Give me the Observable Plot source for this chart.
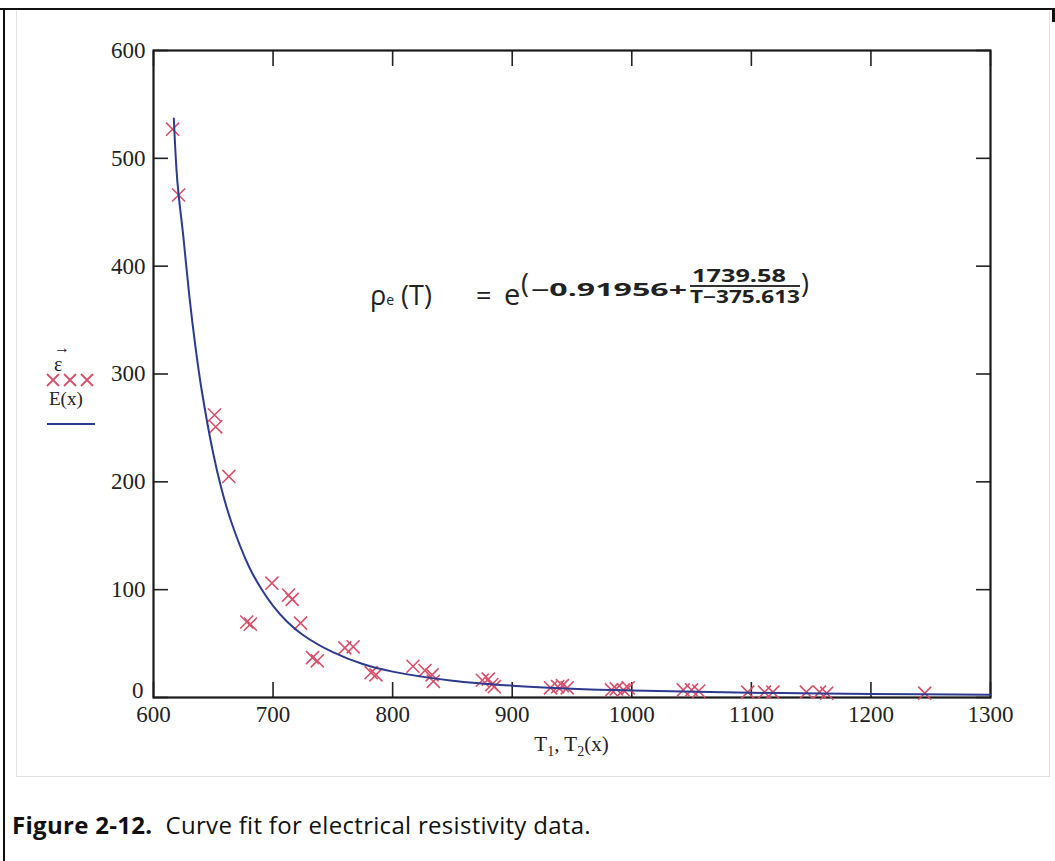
<!DOCTYPE html>
<html><head><meta charset="utf-8">
<script src="https://cdn.jsdelivr.net/npm/d3@7"></script>
<script src="https://cdn.jsdelivr.net/npm/@observablehq/plot@0.6"></script>
<style>
body{margin:0;background:#fff;}
#page{position:relative;width:1055px;height:861px;overflow:hidden;background:#fff;}
.abs{position:absolute;white-space:nowrap;line-height:1;}
.serif{font-family:"Liberation Serif","DejaVu Serif",serif;color:#222;}
.sans{font-family:"Open Sans","Noto Sans",sans-serif;color:#222;}
.fit{transform-origin:0 50%;}
</style></head><body>
<div id="page">
  <div class="abs" style="left:0;top:8px;width:1055px;height:2px;background:#111"></div>
  <div class="abs" style="left:3px;top:8px;width:2px;height:853px;background:#111"></div>
  <div class="abs" style="left:1052px;top:8px;width:3px;height:14px;background:#111"></div>
  <div class="abs" style="left:16px;top:11px;width:1034px;height:766px;border:1px solid #e0e0e0;border-top:none;box-sizing:border-box"></div>
  <div id="chart" class="abs" style="left:0;top:0"></div>

  <!-- legend (y-axis title) -->
  <div class="abs serif" style="left:54px;top:338px;font-size:20px;line-height:17px;white-space:normal;width:20px"><span style="font-size:16px;font-weight:bold">&#x2192;</span><br>ε</div>
  <svg class="abs" style="left:46px;top:373px" width="50" height="14">
    <g stroke="#d6506a" stroke-width="1.8" fill="none">
      <path d="M1,1L13,13M13,1L1,13"/><path d="M18,1L30,13M30,1L18,13"/><path d="M35,1L47,13M47,1L35,13"/>
    </g>
  </svg>
  <div class="abs serif" style="left:49px;top:389px;font-size:19px">E(x)</div>
  <div class="abs" style="left:47px;top:423px;width:48px;height:2px;background:#2c3b8e"></div>

  <!-- x-axis title -->
  <div class="abs serif" style="left:0;width:1143px;text-align:center;top:734px;font-size:21px">T<sub style="font-size:14px">1</sub>, T<sub style="font-size:14px">2</sub>(x)</div>

  <!-- formula -->
  <div class="abs sans" style="left:370px;top:281px;font-size:27px">ρ<span style="font-size:14px">e</span> (T)</div>
  <div class="abs sans" style="left:476px;top:281px;font-size:27px">=</div>
  <div class="abs sans" style="left:504px;top:279px;font-size:29px">e</div>
  <div class="abs sans" style="left:521px;top:269px;font-size:27px">(</div>
  <div class="abs sans fit" data-w="156" style="left:531px;top:281px;font-size:17px;font-weight:bold">−0.91956+</div>
  <div class="abs sans fit" data-w="94" style="left:692px;top:267px;font-size:17px;font-weight:bold">1739.58</div>
  <div class="abs" style="left:690px;top:285px;width:110px;height:1.5px;background:#333"></div>
  <div class="abs sans fit" data-w="110" style="left:690px;top:288px;font-size:17px;font-weight:bold">T−375.613</div>
  <div class="abs sans" style="left:801px;top:269px;font-size:27px">)</div>

  <!-- caption -->
  <div id="cap" class="abs" style="left:12px;top:813px;font-family:'Open Sans',sans-serif;font-size:24px;letter-spacing:0.3px;color:#111"><b>Figure 2-12.</b>&nbsp; Curve fit for electrical resistivity data.</div>
</div>
<script>
// measured data: temperature T and resistivity ε
const pointT = [616, 621, 651, 652, 663, 678, 681, 699, 713, 716, 723, 733, 737, 760, 767, 782, 786, 817, 827, 833, 834,
                875, 880, 883, 885, 932, 938, 942, 946, 983, 987, 993, 997, 1043, 1050, 1056, 1097, 1111, 1118, 1146, 1157, 1163, 1245];
const pointRho = [527, 466, 262, 251, 205, 70, 68, 106, 95, 91, 69, 37, 34, 46, 47, 23, 21, 29, 25, 21, 15,
                  16, 17, 12, 10, 9, 10, 11, 9, 7, 8, 7, 9, 7, 7, 6, 5, 5, 5, 5, 5, 4, 4];
// fitted curve E(x)
const curveT = [617, 620, 625, 630, 635, 640, 650, 657, 665, 680, 690, 700, 712, 725, 750, 775, 800, 850, 900, 950, 1000, 1100, 1200, 1300];
const curveRho = [537, 478, 427, 372, 326, 287, 226, 193, 163, 121, 101, 85, 70, 58, 42, 31, 24, 15.6, 11, 8.2, 6.5, 4.4, 3.3, 2.6];
// axis ticks
const xTicks = [600, 700, 800, 900, 1000, 1100, 1200, 1300];
const yTicks = [0, 100, 200, 300, 400, 500, 600];
const yLabelTicks = [100, 200, 300, 400, 500, 600];

const points = pointT.map((t, i) => ({T: t, rho: pointRho[i]}));
const curve = curveT.map((t, i) => ({T: t, rho: curveRho[i]}));

const chart = Plot.plot({
  width: 1055, height: 780,
  marginTop: 50, marginBottom: 83, marginLeft: 153, marginRight: 65,
  x: {domain: [600, 1300]},
  y: {domain: [0, 600]},
  style: {fontFamily: "'Liberation Serif', serif", fontSize: "23px", color: "#222", background: "transparent", overflow: "visible"},
  marks: [
    Plot.axisX({ticks: xTicks, anchor: "bottom", tickSize: 0, tickPadding: 8, fontSize: 23, tickFormat: d => String(d), label: null}),
    Plot.axisX({ticks: xTicks, anchor: "bottom", tickSize: -15, tickFormat: () => "", label: null, strokeWidth: 1.6}),
    Plot.axisX({ticks: xTicks, anchor: "top", tickSize: -15, tickFormat: () => "", label: null, strokeWidth: 1.6}),
    Plot.axisY({ticks: yLabelTicks, anchor: "left", tickSize: 0, tickPadding: 8, fontSize: 23, tickFormat: d => String(d), label: null}),
    Plot.axisY({ticks: [0], anchor: "left", tickSize: 0, tickPadding: 10, fontSize: 23, dy: -7, tickFormat: d => String(d), label: null}),
    Plot.axisY({ticks: yTicks, anchor: "left", tickSize: -15, tickFormat: () => "", label: null, strokeWidth: 1.6}),
    Plot.axisY({ticks: yTicks, anchor: "right", tickSize: -15, tickFormat: () => "", label: null, strokeWidth: 1.6}),
    Plot.frame({stroke: "#1a1a1a", strokeWidth: 2.2}),
    Plot.dot(points, {x: "T", y: "rho", symbol: "times", r: 6, stroke: "#d6506a", strokeWidth: 1.6}),
    Plot.line(curve, {x: "T", y: "rho", stroke: "#2c3b8e", strokeWidth: 2, curve: "catmull-rom"})
  ]
});
document.getElementById("chart").appendChild(chart);

// stretch formula pieces horizontally to the widths seen in the reference
document.querySelectorAll(".fit").forEach(el => {
  const w = el.getBoundingClientRect().width;
  const target = +el.dataset.w;
  if (w > 0) el.style.transform = `scaleX(${target / w})`;
});
</script>
</body></html>
